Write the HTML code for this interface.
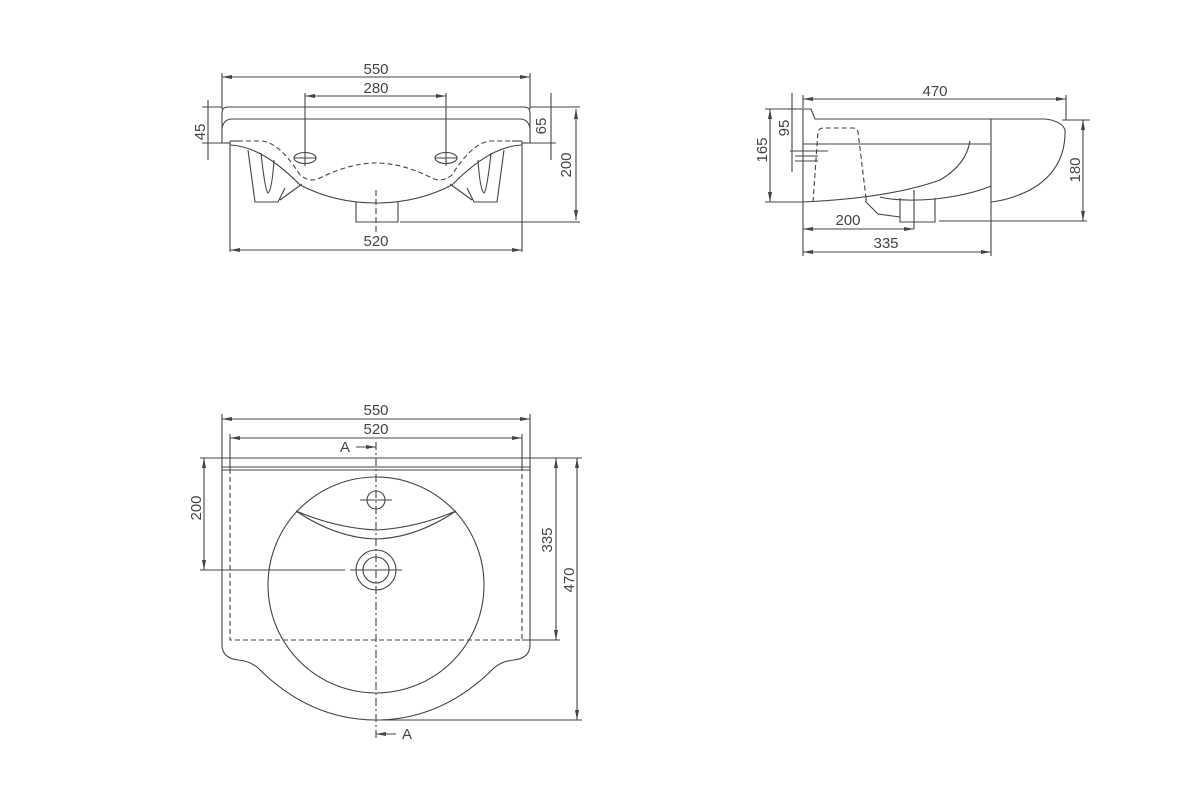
<!DOCTYPE html>
<html><head><meta charset="utf-8"><style>
html,body{margin:0;padding:0;background:#fff;}
svg{display:block;}
text{font-family:"Liberation Sans",sans-serif;font-size:15px;fill:#444;}
</style></head><body>
<svg width="1200" height="796" viewBox="0 0 1200 796" xmlns="http://www.w3.org/2000/svg">
<defs>
<marker id="a" markerWidth="10" markerHeight="6" refX="10" refY="3" orient="auto-start-reverse" markerUnits="userSpaceOnUse"><path d="M0,1 L10,3 L0,5 Z" fill="#444"/></marker>
</defs>
<g stroke="#444" stroke-width="1.1" fill="none">

<!-- ===== FRONT VIEW ===== -->
<line x1="222" y1="73" x2="222" y2="109"/><line x1="530" y1="73" x2="530" y2="109"/>
<line x1="222" y1="77" x2="530" y2="77" marker-start="url(#a)" marker-end="url(#a)"/>
<line x1="305" y1="93" x2="305" y2="166"/><line x1="446" y1="93" x2="446" y2="166"/>
<line x1="305" y1="96" x2="446" y2="96" marker-start="url(#a)" marker-end="url(#a)"/>
<path d="M222,143 L222,113 Q222,107 228,107 L524,107 Q530,107 530,113 L530,143"/>
<path d="M222,128 Q224,119 232,119 L520,119 Q528,119 530,128"/>
<line x1="222" y1="143" x2="230" y2="143"/><line x1="522" y1="143" x2="530" y2="143"/>
<line x1="230" y1="141" x2="230" y2="252"/><line x1="522" y1="141" x2="522" y2="252"/>
<line x1="230" y1="141" x2="240" y2="141"/><line x1="512" y1="141" x2="522" y2="141"/>
<path d="M230,145 Q262,146 300,185 Q335,203 376,203 Q417,203 452,185 Q490,146 522,145"/>
<path stroke-dasharray="5,3" d="M230,141 L262,141 Q280,143 300,175 Q310,183 320,178 Q350,163 376,163 Q402,163 432,178 Q442,183 452,175 Q472,143 490,141 L522,141"/>
<ellipse cx="305" cy="158" rx="11" ry="5.5"/><line x1="294" y1="158" x2="316" y2="158"/>
<ellipse cx="446" cy="158" rx="11" ry="5.5"/><line x1="435" y1="158" x2="457" y2="158"/>
<path d="M248,150 L255,202 L278,202 L285,188 M261,153 Q265,190 268,193 Q272,190 274,160 M280,200 L302,184"/>
<path d="M504,150 L497,202 L474,202 L467,188 M491,153 Q487,190 484,193 Q480,190 478,160 M472,200 L450,184"/>
<path d="M356,202 L356,222 L398,222 L398,202"/>
<line x1="376" y1="190" x2="376" y2="232" stroke-dasharray="6,3"/>
<line x1="230" y1="250" x2="522" y2="250" marker-start="url(#a)" marker-end="url(#a)"/>
<line x1="202" y1="107" x2="222" y2="107"/><line x1="202" y1="143" x2="222" y2="143"/>
<line x1="208" y1="100" x2="208" y2="160"/>
<line x1="530" y1="107" x2="580" y2="107"/><line x1="530" y1="143" x2="556" y2="143"/>
<line x1="551" y1="93" x2="551" y2="160"/>
<line x1="400" y1="222" x2="580" y2="222"/>
<line x1="576" y1="109" x2="576" y2="220" marker-start="url(#a)" marker-end="url(#a)"/>

<!-- ===== SIDE VIEW ===== -->
<line x1="803" y1="95" x2="803" y2="108"/><line x1="1066" y1="95" x2="1066" y2="120"/>
<line x1="803" y1="99" x2="1066" y2="99" marker-start="url(#a)" marker-end="url(#a)"/>
<path d="M803,202 L803,109 L811,109 L815,119 L1045,119"/>
<path d="M1045,119 Q1062,121 1065,130 Q1066,170 1030,190 Q1010,200 991,202"/>
<line x1="991" y1="119" x2="991" y2="202"/>
<line x1="803" y1="144" x2="991" y2="144"/>
<path d="M970,141 Q966,165 940,180 Q890,198 803,202"/>
<path d="M880,197 Q900,202 935,199 Q970,195 991,186"/>
<path stroke-dasharray="5,3" d="M813,202 L818,131 Q820,128 824,128 L853,128 Q857,128 858,132 L866,198"/>
<path d="M866,198 L866,202 L878,214 L900,217 M900,198 L900,222 L935,222 L935,198"/>
<line x1="914" y1="190" x2="914" y2="229"/>
<line x1="939" y1="221" x2="1087" y2="221"/>
<line x1="790" y1="151" x2="828" y2="151"/><line x1="795" y1="156" x2="818" y2="156"/><line x1="795" y1="161" x2="818" y2="161"/>
<line x1="765" y1="109" x2="803" y2="109"/><line x1="765" y1="202" x2="803" y2="202"/>
<line x1="770" y1="109" x2="770" y2="202" marker-start="url(#a)" marker-end="url(#a)"/>
<line x1="792" y1="93" x2="792" y2="172"/><line x1="788" y1="109" x2="796" y2="109"/>
<line x1="1062" y1="120" x2="1090" y2="120"/>
<line x1="1083" y1="120" x2="1083" y2="221" marker-start="url(#a)" marker-end="url(#a)"/>
<line x1="803" y1="202" x2="803" y2="256"/><line x1="991" y1="202" x2="991" y2="256"/>
<line x1="803" y1="229" x2="914" y2="229" marker-start="url(#a)" marker-end="url(#a)"/>
<line x1="803" y1="252" x2="991" y2="252" marker-start="url(#a)" marker-end="url(#a)"/>

<!-- ===== TOP VIEW ===== -->
<line x1="222" y1="414" x2="222" y2="458"/><line x1="530" y1="414" x2="530" y2="458"/>
<line x1="222" y1="419" x2="530" y2="419" marker-start="url(#a)" marker-end="url(#a)"/>
<line x1="230" y1="434" x2="230" y2="470"/><line x1="522" y1="434" x2="522" y2="470"/>
<line x1="230" y1="438" x2="522" y2="438" marker-start="url(#a)" marker-end="url(#a)"/>
<line x1="356" y1="447" x2="376" y2="447" marker-end="url(#a)"/>
<line x1="376" y1="442" x2="376" y2="740" stroke-dasharray="8,3,2,3"/>
<path d="M222,458 L530,458"/>
<line x1="222" y1="467" x2="530" y2="467"/><line x1="222" y1="470" x2="530" y2="470"/>
<path d="M222,458 L222,645 Q222,658 238,660 Q250,661 258,668 Q310,720 376,720 Q442,720 494,668 Q502,661 514,660 Q530,658 530,645 L530,458"/>
<rect x="230" y="470" width="292" height="170" stroke-dasharray="5,3"/>
<circle cx="376" cy="585" r="108"/>
<circle cx="376" cy="500" r="9"/><line x1="360" y1="500" x2="392" y2="500"/>
<path d="M296,511 Q336,538 376,539 Q416,538 456,511 Q416,528 376,530 Q336,528 296,511"/>
<circle cx="376" cy="570" r="20"/><circle cx="376" cy="570" r="13"/>
<line x1="350" y1="570" x2="402" y2="570"/>
<line x1="200" y1="570" x2="345" y2="570"/>
<line x1="200" y1="458" x2="222" y2="458"/>
<line x1="204" y1="458" x2="204" y2="570" marker-start="url(#a)" marker-end="url(#a)"/>
<line x1="530" y1="458" x2="582" y2="458"/>
<line x1="522" y1="640" x2="560" y2="640"/>
<line x1="556" y1="458" x2="556" y2="640" marker-start="url(#a)" marker-end="url(#a)"/>
<line x1="376" y1="720" x2="582" y2="720"/>
<line x1="577" y1="458" x2="577" y2="720" marker-start="url(#a)" marker-end="url(#a)"/>
<line x1="396" y1="734" x2="376" y2="734" marker-end="url(#a)"/>
</g>
<g>
<text x="376" y="74" text-anchor="middle">550</text>
<text x="376" y="93" text-anchor="middle">280</text>
<text x="376" y="246" text-anchor="middle">520</text>
<text transform="translate(205,132) rotate(-90)" text-anchor="middle">45</text>
<text transform="translate(546,126) rotate(-90)" text-anchor="middle">65</text>
<text transform="translate(571,165) rotate(-90)" text-anchor="middle">200</text>
<text x="935" y="96" text-anchor="middle">470</text>
<text transform="translate(789,128) rotate(-90)" text-anchor="middle">95</text>
<text transform="translate(767,150) rotate(-90)" text-anchor="middle">165</text>
<text transform="translate(1080,170) rotate(-90)" text-anchor="middle">180</text>
<text x="848" y="225" text-anchor="middle">200</text>
<text x="886" y="248" text-anchor="middle">335</text>
<text x="376" y="415" text-anchor="middle">550</text>
<text x="376" y="434" text-anchor="middle">520</text>
<text x="345" y="452" text-anchor="middle">A</text>
<text x="407" y="739" text-anchor="middle">A</text>
<text transform="translate(201,508) rotate(-90)" text-anchor="middle">200</text>
<text transform="translate(552,540) rotate(-90)" text-anchor="middle">335</text>
<text transform="translate(574,580) rotate(-90)" text-anchor="middle">470</text>
</g>
</svg>
</body></html>
